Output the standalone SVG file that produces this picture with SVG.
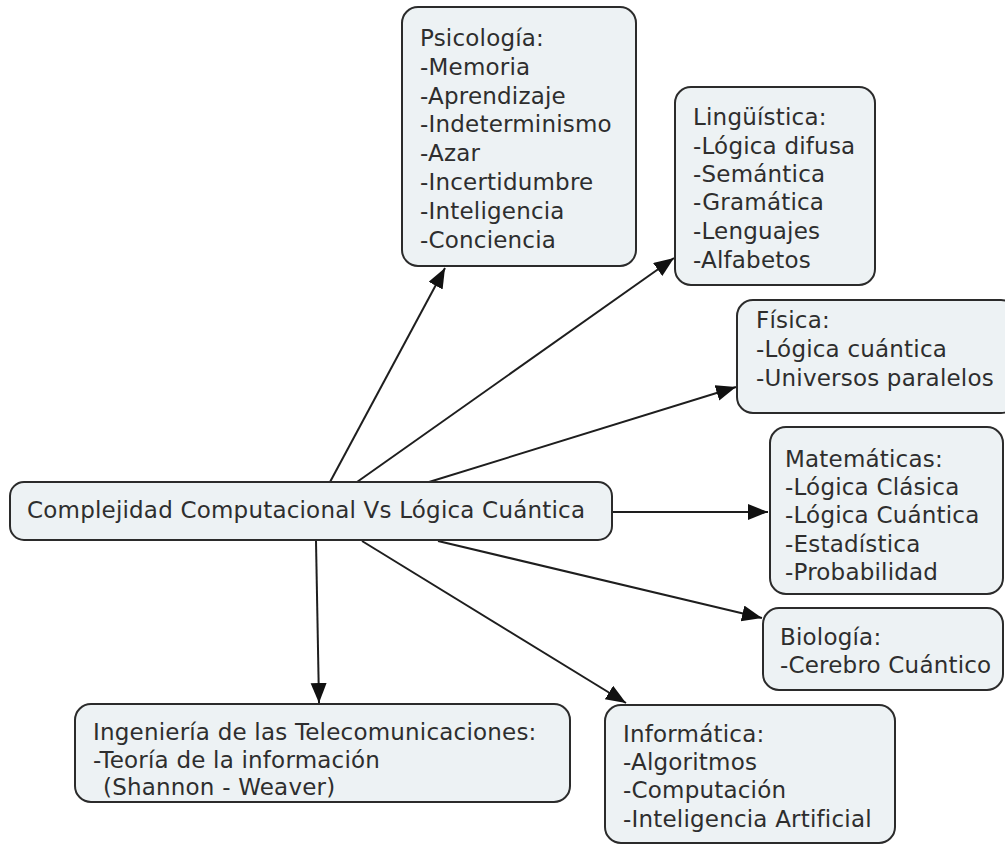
<svg xmlns="http://www.w3.org/2000/svg" width="1005" height="847" viewBox="0 0 1005 847">
  <defs>
    <style>
      .box { fill: #edf2f4; stroke: #2b2b2b; stroke-width: 2; }
      .lbl { font-family: "DejaVu Sans", Verdana, sans-serif; font-size: 23px; letter-spacing: 0.2px; fill: #2e2e2e; }
      .link { fill: none; stroke: #1e1e1e; stroke-width: 2; marker-end: url(#arrow); }
    </style>
    <marker id="arrow" markerUnits="userSpaceOnUse" markerWidth="22" markerHeight="18" refX="20" refY="8" orient="auto">
      <path d="M0,0 L20,8 L0,16 z" fill="#111"/>
    </marker>
  </defs>
  <rect width="1005" height="847" fill="#ffffff"/>

  <!-- connectors from the central concept -->
  <g id="connectors">
    <line class="link" x1="330" y1="482" x2="445" y2="268"/>
    <line class="link" x1="357" y1="482" x2="674" y2="258"/>
    <line class="link" x1="429" y1="482" x2="736" y2="387"/>
    <line class="link" x1="612" y1="512" x2="768" y2="512"/>
    <line class="link" x1="438" y1="541" x2="762" y2="618"/>
    <line class="link" x1="362" y1="541" x2="626" y2="703"/>
    <line class="link" x1="316" y1="541" x2="319" y2="703"/>
  </g>

  <g id="central">
    <rect class="box" x="10" y="482" width="602" height="58" rx="14"/>
    <text class="lbl" x="27" y="518">Complejidad Computacional Vs Lógica Cuántica</text>
  </g>

  <g id="psicologia">
    <rect class="box" x="402" y="7" width="234" height="259" rx="16"/>
    <text class="lbl" x="420" y="46">Psicología:</text>
    <text class="lbl" x="420" y="75">-Memoria</text>
    <text class="lbl" x="420" y="104">-Aprendizaje</text>
    <text class="lbl" x="420" y="132">-Indeterminismo</text>
    <text class="lbl" x="420" y="161">-Azar</text>
    <text class="lbl" x="420" y="190">-Incertidumbre</text>
    <text class="lbl" x="420" y="219">-Inteligencia</text>
    <text class="lbl" x="420" y="248">-Conciencia</text>
  </g>

  <g id="linguistica">
    <rect class="box" x="675" y="87" width="200" height="198" rx="16"/>
    <text class="lbl" x="693" y="125">Lingüística:</text>
    <text class="lbl" x="693" y="154">-Lógica difusa</text>
    <text class="lbl" x="693" y="182">-Semántica</text>
    <text class="lbl" x="693" y="210">-Gramática</text>
    <text class="lbl" x="693" y="239">-Lenguajes</text>
    <text class="lbl" x="693" y="268">-Alfabetos</text>
  </g>

  <g id="fisica">
    <rect class="box" x="737" y="300" width="280" height="113" rx="16"/>
    <text class="lbl" x="756" y="328">Física:</text>
    <text class="lbl" x="756" y="357">-Lógica cuántica</text>
    <text class="lbl" x="756" y="386">-Universos paralelos</text>
  </g>

  <g id="matematicas">
    <rect class="box" x="770" y="427" width="233" height="167" rx="16"/>
    <text class="lbl" x="785" y="467">Matemáticas:</text>
    <text class="lbl" x="785" y="495">-Lógica Clásica</text>
    <text class="lbl" x="785" y="523">-Lógica Cuántica</text>
    <text class="lbl" x="785" y="552">-Estadística</text>
    <text class="lbl" x="785" y="580">-Probabilidad</text>
  </g>

  <g id="biologia">
    <rect class="box" x="763" y="608" width="240" height="82" rx="16"/>
    <text class="lbl" x="780" y="645">Biología:</text>
    <text class="lbl" x="780" y="673">-Cerebro Cuántico</text>
  </g>

  <g id="informatica">
    <rect class="box" x="605" y="705" width="290" height="138" rx="16"/>
    <text class="lbl" x="623" y="742">Informática:</text>
    <text class="lbl" x="623" y="770">-Algoritmos</text>
    <text class="lbl" x="623" y="798">-Computación</text>
    <text class="lbl" x="623" y="827">-Inteligencia Artificial</text>
  </g>

  <g id="telecomunicaciones">
    <rect class="box" x="75" y="704" width="495" height="98" rx="16"/>
    <text class="lbl" x="93" y="740">Ingeniería de las Telecomunicaciones:</text>
    <text class="lbl" x="93" y="768">-Teoría de la información</text>
    <text class="lbl" x="103" y="795">(Shannon - Weaver)</text>
  </g>
</svg>
